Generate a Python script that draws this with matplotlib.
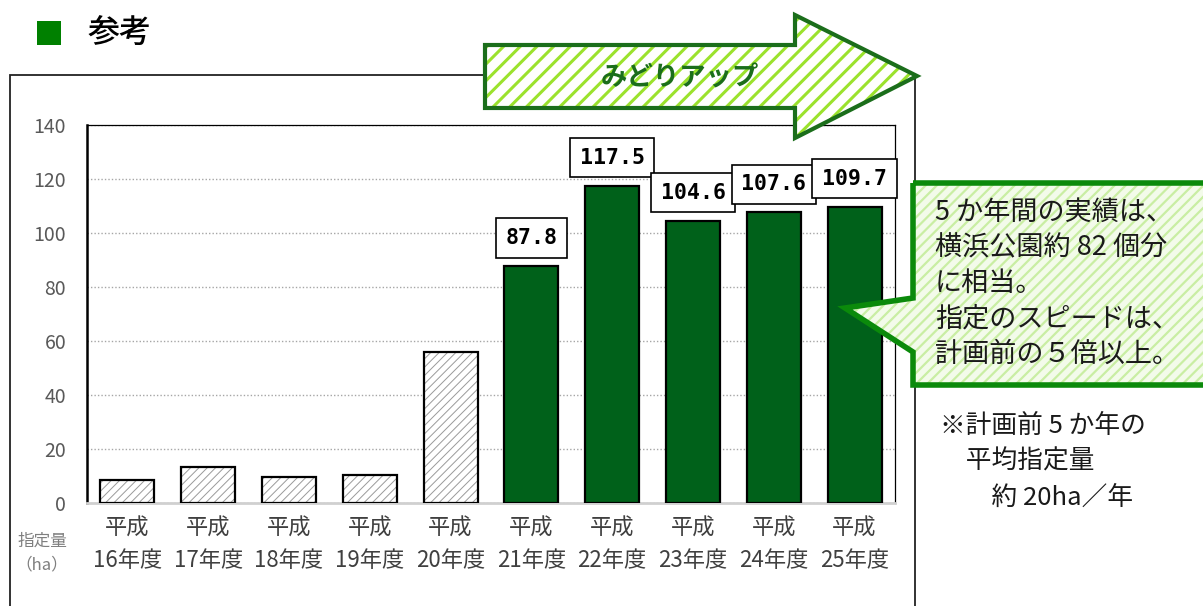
import matplotlib.pyplot as plt
from matplotlib.patches import Polygon, Rectangle

plt.rcParams['font.family'] = ['Noto Sans CJK JP', 'DejaVu Sans']

W, H = 1203, 606

# データ
nendo = ['16', '17', '18', '19', '20', '21', '22', '23', '24', '25']
shitei = [8.6, 13.4, 9.7, 10.5, 56.0, 87.8, 117.5, 104.6, 107.6, 109.7]
n_mae = 5  # 計画前の年度数
y_ticks = [0, 20, 40, 60, 80, 100, 120, 140]

callout_lines = ['5 か年間の実績は、', '横浜公園約 82 個分', 'に相当。',
                 '指定のスピードは、', '計画前の５倍以上。']
note_lines = ['※計画前 5 か年の', '\u3000平均指定量', '\u3000\u3000約 20ha／年']


def fx(x):
    return x / W


def fy(y):
    return 1 - y / H


def hatch_lw(p, lw):
    if hasattr(p, 'set_hatch_linewidth'):
        p.set_hatch_linewidth(lw)


fig = plt.figure(figsize=(W / 100, H / 100), dpi=100)
ax = fig.add_axes([fx(87), fy(503), fx(895) - fx(87), fy(125) - fy(503)])

x = list(range(len(nendo)))
bw = 0.67

# 計画前（斜線）
plt.rcParams['hatch.linewidth'] = 0.7
hb = ax.bar(x[:n_mae], shitei[:n_mae], bw, color='white', edgecolor='#9a9a9a',
            hatch='////', linewidth=0, zorder=2)
for p in hb:
    hatch_lw(p, 0.7)
ax.bar(x[:n_mae], shitei[:n_mae], bw, color='none', edgecolor='black',
       linewidth=1.6, zorder=3)
# 計画後（緑）
ax.bar(x[n_mae:], shitei[n_mae:], bw, color='#00611a', edgecolor='black',
       linewidth=1.6, zorder=3)

for xi, v in zip(x[n_mae:], shitei[n_mae:]):
    ax.annotate(f'{v:.1f}', (xi, v), xytext=(0, 13), textcoords='offset points',
                ha='center', va='bottom', fontsize=15.5, fontweight='bold',
                family='DejaVu Sans Mono', zorder=5,
                bbox=dict(boxstyle='square,pad=0.45', fc='white', ec='black', lw=1.2))

ax.set_xlim(-0.5, len(nendo) - 0.5)
ax.set_ylim(0, 140)
ax.set_yticks(y_ticks)
ax.set_xticks(x)
ax.set_xticklabels([f'平成\n{n}年度' for n in nendo], fontsize=16, color='#404040',
                   linespacing=1.5)
ax.tick_params(axis='y', length=0, pad=15, labelsize=14, labelcolor='#595959')
ax.tick_params(axis='x', length=0, pad=10)
ax.yaxis.grid(True, linestyle=(0, (1, 1.5)), color='#a6a6a6', linewidth=1)
ax.set_axisbelow(True)
ax.spines['left'].set_linewidth(1.8)
ax.spines['left'].set_color('black')
ax.spines['bottom'].set_color('#d0d0d0')
ax.spines['bottom'].set_linewidth(2)
ax.spines['top'].set_linewidth(0.9)
ax.spines['right'].set_linewidth(0.9)

fig.text(fx(42), fy(553), '指定量\n（ha）', ha='center', va='center', fontsize=12,
         color='#7f7f7f', linespacing=1.5)

# 外枠
fig.add_artist(Rectangle((fx(10), fy(640)), fx(915) - fx(10), fy(75) - fy(640),
                         transform=fig.transFigure, fill=False, ec='#222222',
                         lw=1.3, zorder=0.5))

# タイトル
fig.add_artist(Rectangle((fx(37), fy(45)), fx(61) - fx(37), fy(21) - fy(45),
                         transform=fig.transFigure, fc='#008000', ec='none', zorder=2))
fig.text(fx(87), fy(34), '参考', ha='left', va='center', fontsize=23,
         fontweight='medium', color='black')

# みどりアップ 矢印
arrow_xy = [(485, 45), (795, 45), (795, 15), (917, 76), (795, 138), (795, 108), (485, 108)]
arrow_pts = [(fx(a), fy(b)) for a, b in arrow_xy]
plt.rcParams['hatch.linewidth'] = 2.2
pa = Polygon(arrow_pts, closed=True, transform=fig.transFigure, fc='white',
             ec='#9be22d', hatch='//', lw=0, zorder=3)
hatch_lw(pa, 2.2)
fig.add_artist(pa)
fig.add_artist(Polygon(arrow_pts, closed=True, transform=fig.transFigure, fill=False,
                       ec='#1b6e1b', lw=3, joinstyle='miter', zorder=3.1))
fig.text(fx(680), fy(78), 'みどりアップ', ha='center', va='center', fontsize=19,
         fontweight='bold', color='#1b6e1b', zorder=4)

# 吹き出し
call_xy = [(913, 183), (1215, 183), (1215, 385), (913, 385), (913, 352),
           (845, 308), (913, 298)]
call_pts = [(fx(a), fy(b)) for a, b in call_xy]
plt.rcParams['hatch.linewidth'] = 1.6
pc = Polygon(call_pts, closed=True, transform=fig.transFigure, fc='#f3fbea',
             ec='#c9eea3', hatch='///', lw=0, zorder=5)
hatch_lw(pc, 1.6)
fig.add_artist(pc)
fig.add_artist(Polygon(call_pts, closed=True, transform=fig.transFigure, fill=False,
                       ec='#0b8a0b', lw=4, joinstyle='miter', zorder=5.1))
for i, line in enumerate(callout_lines):
    fig.text(fx(935), fy(212 + i * 35.5), line, ha='left', va='center', fontsize=19.5,
             color='#1a1a1a', zorder=6)

# 注記
for i, line in enumerate(note_lines):
    fig.text(fx(940), fy(426 + i * 36), line, ha='left', va='center', fontsize=18.5,
             color='#1a1a1a', zorder=6)

fig.savefig('out.png', dpi=100)
